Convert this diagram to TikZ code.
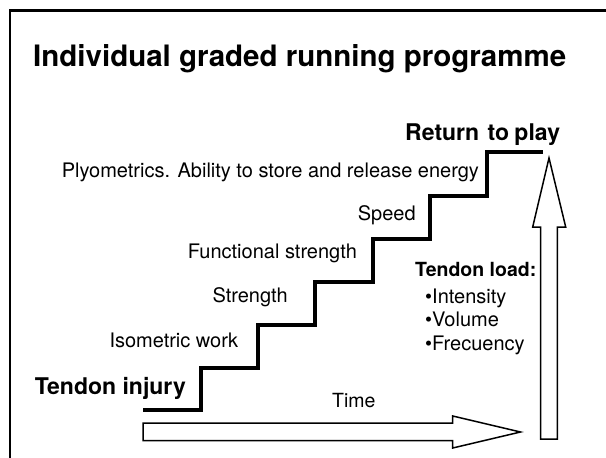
\documentclass[tikz,border=0pt]{standalone}
\usepackage{fontspec}
\setmainfont{TeX Gyre Heros}

\tikzset{
  stage/.style={inner sep=0pt, font=\fontsize{20}{24}\selectfont},
  milestone/.style={inner sep=0pt, font=\fontsize{23}{26}\selectfont\bfseries},
  blockarrow/.style={line width=1.5, line join=miter, fill=white}
}

\begin{document}
\begin{tikzpicture}[x=1pt, y=-1pt]

 \useasboundingbox (0,0) rectangle (606,458) ;

 %%%%%%%%%% Points of the stairs %%%%%%%%%%

 \coordinate (s0) at (143,410) ;
 \coordinate (s1) at (200.7,368) ;
 \coordinate (s2) at (257.9,325) ;
 \coordinate (s3) at (315.2,282) ;
 \coordinate (s4) at (372.5,239) ;
 \coordinate (s5) at (429.7,196) ;
 \coordinate (s6) at (487,152) ;
 \coordinate (s7) at (543,152) ;

 % Frame
 \draw [line width=2.5] (606,10.7) -- (10,10.7) -- (10,458) ;

 % Title
 \node [inner sep=0pt, anchor=base west, font=\fontsize{29.5}{32}\selectfont\bfseries] (title) at (33,66.7) {Individual graded running programme} ;

 %%%%%%%%%%% The stairs %%%%%%%%%%%
 \draw [line width=4, line join=miter] (s0) -| (s1) -| (s2) -| (s3) -| (s4) -| (s5) -| (s6) -- (s7) ;

 %%%%%%%%%%% Stages %%%%%%%%%%%
 \node [milestone, anchor=base east] (injury) at (186,394) {Tendon injury} ;
 \node [stage, anchor=base east] (iso) at (238.3,347.3) {Isometric work} ;
 \node [stage, anchor=base east] (strength) at (288,302) {Strength} ;
 \node [stage, anchor=base west] (func) at (187.7,258.3) {Functional strength} ;
 \node [stage, anchor=base west] (speed) at (357.7,220) {Speed} ;
 \node [stage, anchor=base west] (plyo) at (61.7,177.3) {Plyometrics. Ability to store and release energy} ;
 \node [milestone, anchor=base west] (rtp) at (405,140) {Return\hspace{2pt} to\hspace{-1pt} play} ;

 %%%%%%%%%%% Time arrow %%%%%%%%%%%
 \draw [blockarrow] (143,423) -- (452.7,423) -- (452.7,416) -- (520.5,432)
   -- (452.7,448) -- (452.7,440.5) -- (143,440.5) -- cycle ;
 \node [inner sep=0pt, anchor=base west, font=\fontsize{19.5}{22}\selectfont] (time) at (332,407.3) {Time} ;

 %%%%%%%%%%% Load arrow %%%%%%%%%%%
 \draw [blockarrow] (540.7,439) -- (540.7,227) -- (532.7,227) -- (549,158)
   -- (565.7,227) -- (557.3,227) -- (557.3,439) -- cycle ;
 \node [inner sep=0pt, anchor=base west, font=\fontsize{19.5}{22}\selectfont\bfseries] (load) at (415,276.7) {Tendon load:} ;
 \node [stage, anchor=base west] (intensity) at (425,303) {•Intensity} ;
 \node [stage, anchor=base west] (volume) at (425,326.7) {•Volume} ;
 \node [stage, anchor=base west] (frecuency) at (425,350) {•Frecuency} ;

\end{tikzpicture}
\end{document}
